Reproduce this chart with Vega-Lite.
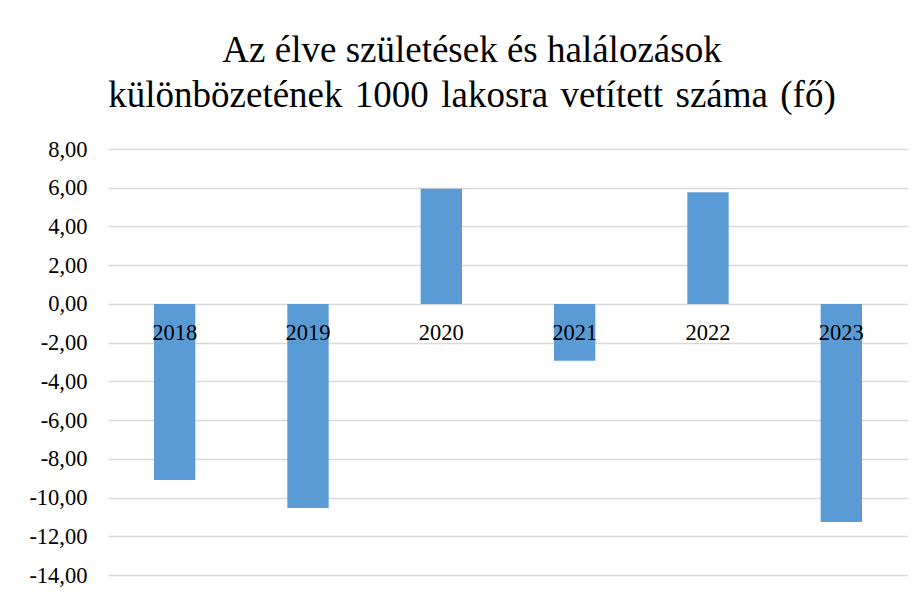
{
  "$schema": "https://vega.github.io/schema/vega-lite/v6.json",
  "width": 800,
  "height": 426,
  "autosize": {"type": "none"},
  "padding": {"left": 108, "top": 149, "right": 16, "bottom": 23},
  "background": "white",
  "title": {
    "text": ["Az élve születések és halálozások", "különbözetének \u200a1000 \u200alakosra \u200avetített \u200aszáma \u200a(fő)"],
    "font": "Liberation Serif",
    "fontSize": 37,
    "fontWeight": "normal",
    "color": "#000000",
    "lineHeight": 45,
    "anchor": "middle",
    "dx": -36,
    "offset": 23
  },
  "config": {
    "locale": {"number": {"decimal": ",", "thousands": " ", "grouping": [3], "currency": ["", ""], "minus": "-"}},
    "view": {"stroke": null},
    "font": "Liberation Serif",
    "axis": {"labelFont": "Liberation Serif", "labelFontSize": 22.5, "labelColor": "#000000"},
    "axisY": {
      "title": null,
      "values": [-14, -12, -10, -8, -6, -4, -2, 0, 2, 4, 6, 8],
      "format": ".2f",
      "labelFont": "Liberation Serif",
      "labelFontSize": 22.5,
      "labelColor": "#000000",
      "labelPadding": 21,
      "labelOverlap": false,
      "labelBound": false,
      "labelFlush": false,
      "ticks": false,
      "domain": false,
      "grid": true,
      "gridColor": "#d9d9d9",
      "gridWidth": 1.5
    }
  },
  "data": {
    "values": [
      {"year": "2018", "value": -9.09},
      {"year": "2019", "value": -10.54},
      {"year": "2020", "value": 5.95},
      {"year": "2021", "value": -2.93},
      {"year": "2022", "value": 5.76},
      {"year": "2023", "value": -11.26}
    ]
  },
  "encoding": {
    "x": {
      "field": "year",
      "type": "nominal",
      "scale": {"paddingInner": 0.69, "paddingOuter": 0.345},
      "axis": null
    }
  },
  "layer": [
    {
      "mark": {"type": "bar", "color": "#5b9bd5"},
      "encoding": {
        "y": {
          "field": "value",
          "type": "quantitative",
          "title": null,
          "scale": {"domain": [-14, 8], "nice": false, "zero": false},
          "axis": {"values": [-14, -12, -10, -8, -6, -4, -2, 0, 2, 4, 6, 8], "labelOverlap": false, "format": ".2f", "labelFont": "Liberation Serif", "labelFontSize": 22.5, "labelColor": "#000000"}
        }
      }
    },
    {
      "mark": {"type": "text", "font": "Liberation Serif", "fontSize": 22.5, "color": "#000000", "baseline": "alphabetic", "dy": 36.5},
      "encoding": {
        "y": {"datum": 0, "type": "quantitative", "title": null, "axis": {"values": [-14, -12, -10, -8, -6, -4, -2, 0, 2, 4, 6, 8], "labelOverlap": false, "format": ".2f", "labelFont": "Liberation Serif", "labelFontSize": 22.5, "labelColor": "#000000"}},
        "text": {"field": "year"}
      }
    }
  ]
}
